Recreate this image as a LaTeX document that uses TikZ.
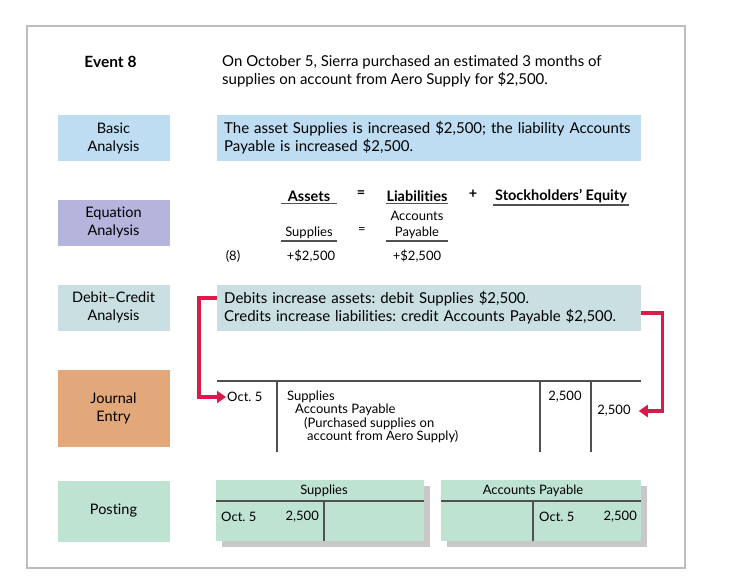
\documentclass[tikz,border=0pt]{standalone}
\usepackage{fontspec}
\setmainfont{Lato}[Ligatures={NoCommon,NoRare}]
\usetikzlibrary{positioning,arrows.meta,calc}
\frenchspacing

\definecolor{basicblue}{HTML}{BEDDF2}
\definecolor{eqpurple}{HTML}{B4B4DC}
\definecolor{dcteal}{HTML}{C9DFE2}
\definecolor{jrnorange}{HTML}{E2A87A}
\definecolor{postgreen}{HTML}{BFE3D2}
\definecolor{flowred}{HTML}{D81B4A}
\definecolor{framegray}{HTML}{BDBDBD}
\definecolor{shadowgray}{HTML}{C8C8C8}
\definecolor{rulegray}{HTML}{505050}

\begin{document}
\begin{tikzpicture}[
  x=1pt, y=-1pt,
  stage/.style={minimum width=112pt, minimum height=46pt, inner sep=0pt, align=center,
    font=\fontsize{14.5}{18}\selectfont},
  info/.style={anchor=west, minimum height=46pt, inner xsep=7pt, inner ysep=0pt,
    text width=410pt, align=left, font=\fontsize{15}{18}\selectfont},
  eq/.style={font=\fontsize{13}{15}\selectfont, inner xsep=0pt, inner ysep=2pt},
  eqhead/.style={eq, font=\fontsize{14.5}{15}\selectfont\bfseries},
  jtxt/.style={anchor=west, inner sep=1pt, font=\fontsize{13}{15}\selectfont},
  tacct/.style={fill=postgreen},
  rule/.style={draw=rulegray, line width=1.3pt},
  flow/.style={draw=flowred, line width=3.2pt, -{Triangle[length=9pt,width=12pt]}}
]
\useasboundingbox (0,0) rectangle (729,579);
\draw[framegray, line width=1.6pt] (27,26) rectangle (685,568);

% Event
\node[font=\fontsize{15.5}{18}\selectfont\bfseries] (event) at (110.5,62) {Event 8};
\node[anchor=west, inner sep=0pt, align=left, font=\fontsize{15}{18}\selectfont] (eventtxt) at (222,71)
  {On October 5, Sierra purchased an estimated 3 months of\\supplies on account from Aero Supply for \$2,500.};

% Basic analysis
\node[stage, fill=basicblue] (basic) at (113.5,138) {Basic\\Analysis};
\node[info, fill=basicblue] (basictxt) at (217,138)
  {The asset Supplies is increased \$2,500; the liability Accounts\\Payable is increased \$2,500.};

% Equation analysis
\node[stage, fill=eqpurple] (equation) at (113.5,222.5) {Equation\\Analysis};
\node[eqhead, minimum width=56pt] (assets) at (309,196) {Assets};
\node[eqhead] (eq1) at (361,194) {=};
\node[eqhead, minimum width=62pt] (liab) at (417,196) {Liabilities};
\node[eqhead] (plus) at (473,194) {+};
\node[eqhead, minimum width=136pt] (equity) at (561,196) {Stockholders’ Equity};
\draw[rule] (assets.south west) -- (assets.south east);
\draw[rule] (liab.south west) -- (liab.south east);
\draw[rule] (equity.south west) -- (equity.south east);
\node[eq] (acc) at (417,216) {Accounts};
\node[eq, minimum width=56pt] (supp) at (309,233) {Supplies};
\node[eq] (eq2) at (362,231) {=};
\node[eq, minimum width=62pt] (pay) at (417,233) {Payable};
\draw[rule] (supp.south west) -- (supp.south east);
\draw[rule] (pay.south west) -- (pay.south east);
\node[eq] (evno) at (233,256) {(8)};
\node[eq] (incA) at (311,256) {+\$2,500};
\node[eq] (incL) at (417,256) {+\$2,500};

% Debit-credit analysis
\node[stage, fill=dcteal] (debitcredit) at (113.5,307.5) {Debit–Credit\\Analysis};
\node[info, fill=dcteal] (dctxt) at (217,307.5)
  {Debits increase assets: debit Supplies \$2,500.\\Credits increase liabilities: credit Accounts Payable \$2,500.};

% Journal entry
\node[stage, fill=jrnorange, minimum height=77pt] (journal) at (113.5,408.5) {Journal\\Entry};
\draw[rule] (217,381) -- (641,381);
\foreach \xc in {277,540,591}
  \draw[rule] (\xc,381) -- (\xc,452);
\node[jtxt] (jdate) at (226,397) {Oct. 5};
\node[jtxt] (jdebit) at (286,397) {Supplies};
\node[jtxt] (jcredit) at (294,410) {Accounts Payable};
\node[jtxt] (jexpl1) at (303,423.5) {(Purchased supplies on};
\node[jtxt] (jexpl2) at (306,437) {account from Aero Supply)};
\node[jtxt, anchor=center] (jdramt) at (565,397) {2,500};
\node[jtxt, anchor=center] (jcramt) at (614,411) {2,500};

\draw[flow] ([yshift=9.5pt]dctxt.west) -- ++(-18,0) |- (jdate.west);
\draw[flow] ([yshift=-5.5pt]dctxt.east) -- ++(21,0) |- ([xshift=7pt]jcramt.east);

% Posting
\node[stage, fill=postgreen, minimum height=61pt] (posting) at (113.5,511) {Posting};

% T-account: Supplies
\fill[shadowgray] (222,486) rectangle (430,547);
\fill[tacct] (216,480) rectangle (424,541);
\draw[rule] (216,501) -- (424,501);
\draw[rule] (324,501) -- (324,541);
\node[jtxt, anchor=center] (tsupp) at (324,491) {Supplies};
\node[jtxt] (tsuppdate) at (220,517) {Oct. 5};
\node[jtxt, anchor=east] (tsuppamt) at (320,517) {2,500};

% T-account: Accounts Payable
\fill[shadowgray] (447,486) rectangle (647,547);
\fill[tacct] (441,480) rectangle (641,541);
\draw[rule] (441,501) -- (641,501);
\draw[rule] (533,501) -- (533,541);
\node[jtxt, anchor=center] (tpay) at (533,491) {Accounts Payable};
\node[jtxt] (tpaydate) at (538,517) {Oct. 5};
\node[jtxt, anchor=east] (tpayamt) at (638,517) {2,500};
\end{tikzpicture}
\end{document}
